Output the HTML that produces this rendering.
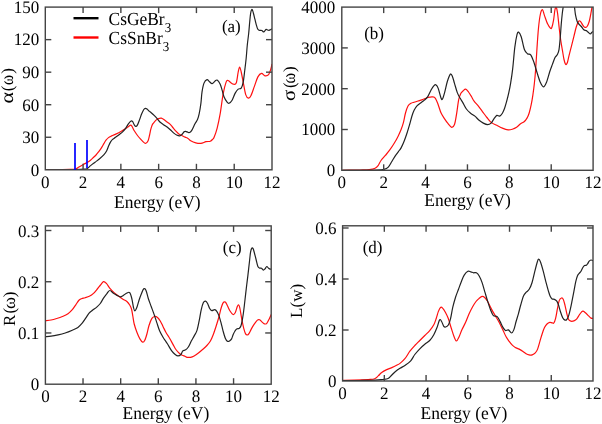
<!DOCTYPE html>
<html><head><meta charset="utf-8"><style>
html,body{margin:0;padding:0;background:#fff;}
svg{display:block;filter:blur(0.3px);}
text{font-family:"Liberation Serif",serif;font-size:17px;fill:#000;text-rendering:geometricPrecision;}
</style></head><body>
<svg width="602" height="424" viewBox="0 0 602 424">
<clipPath id="clipa"><rect x="45.3" y="7.1" width="226.7" height="162.70000000000002"/></clipPath>
<path d="M45.50,169.80 C47.42,169.80 52.92,169.87 57.00,169.80 C61.08,169.73 66.92,169.52 70.00,169.40 C73.08,169.28 74.00,169.50 75.50,169.10 C77.00,168.70 77.75,167.73 79.00,167.00 C80.25,166.27 81.57,165.50 83.00,164.70 C84.43,163.90 86.35,162.95 87.60,162.20 C88.85,161.45 89.50,161.02 90.50,160.20 C91.50,159.38 92.68,158.17 93.60,157.30 C94.52,156.43 95.25,155.82 96.00,155.00 C96.75,154.18 97.25,153.52 98.10,152.40 C98.95,151.28 100.12,149.80 101.10,148.30 C102.08,146.80 103.18,144.75 104.00,143.40 C104.82,142.05 105.25,141.17 106.00,140.20 C106.75,139.23 107.57,138.32 108.50,137.60 C109.43,136.88 110.32,136.52 111.60,135.90 C112.88,135.28 114.72,134.58 116.20,133.90 C117.68,133.22 119.08,132.58 120.50,131.80 C121.92,131.02 123.47,130.00 124.70,129.20 C125.93,128.40 126.92,127.67 127.90,127.00 C128.88,126.33 129.90,125.28 130.60,125.20 C131.30,125.12 131.48,125.57 132.10,126.50 C132.72,127.43 133.40,129.30 134.30,130.80 C135.20,132.30 136.45,134.10 137.50,135.50 C138.55,136.90 139.55,138.05 140.60,139.20 C141.65,140.35 142.92,141.72 143.80,142.40 C144.68,143.08 145.18,143.57 145.90,143.30 C146.62,143.03 147.48,142.18 148.10,140.80 C148.72,139.42 149.17,136.85 149.60,135.00 C150.03,133.15 150.30,131.28 150.70,129.70 C151.10,128.12 151.57,126.57 152.00,125.50 C152.43,124.43 152.63,124.20 153.30,123.30 C153.97,122.40 155.12,120.88 156.00,120.10 C156.88,119.32 157.72,118.92 158.60,118.60 C159.48,118.28 160.42,118.03 161.30,118.20 C162.18,118.37 163.02,119.02 163.90,119.60 C164.78,120.18 165.63,120.98 166.60,121.70 C167.57,122.42 168.73,123.02 169.70,123.90 C170.67,124.78 171.42,125.85 172.40,127.00 C173.38,128.15 174.53,129.65 175.60,130.80 C176.67,131.95 177.75,133.12 178.80,133.90 C179.85,134.68 180.85,134.97 181.90,135.50 C182.95,136.03 184.08,136.62 185.10,137.10 C186.12,137.58 187.07,137.78 188.00,138.40 C188.93,139.02 189.40,140.05 190.70,140.80 C192.00,141.55 194.10,142.47 195.80,142.90 C197.50,143.33 199.20,143.60 200.90,143.40 C202.60,143.20 204.43,142.07 206.00,141.70 C207.57,141.33 209.17,141.63 210.30,141.20 C211.43,140.77 212.17,139.75 212.80,139.10 C213.43,138.45 213.38,139.10 214.10,137.30 C214.82,135.50 216.10,132.15 217.10,128.30 C218.10,124.45 219.10,119.90 220.10,114.20 C221.10,108.50 222.10,99.45 223.10,94.10 C224.10,88.75 225.27,84.37 226.10,82.10 C226.93,79.83 227.43,80.50 228.10,80.50 C228.77,80.50 229.25,81.50 230.10,82.10 C230.95,82.70 232.18,83.93 233.20,84.10 C234.22,84.27 235.37,85.12 236.20,83.10 C237.03,81.08 237.63,74.68 238.20,72.00 C238.77,69.32 239.10,67.00 239.60,67.00 C240.10,67.00 240.60,69.48 241.20,72.00 C241.80,74.52 242.45,78.33 243.20,82.10 C243.95,85.87 244.82,91.92 245.70,94.60 C246.58,97.28 247.63,98.00 248.50,98.20 C249.37,98.40 249.92,97.77 250.90,95.80 C251.88,93.83 253.23,89.55 254.40,86.40 C255.57,83.25 256.72,79.07 257.90,76.90 C259.08,74.73 260.32,73.58 261.50,73.40 C262.68,73.22 263.82,75.60 265.00,75.80 C266.18,76.00 267.62,75.78 268.60,74.60 C269.58,73.42 270.33,70.47 270.90,68.70 C271.47,66.93 271.82,64.78 272.00,64.00" fill="none" stroke="#ff1010" stroke-width="1.2" stroke-linejoin="round" clip-path="url(#clipa)"/>
<path d="M45.50,169.80 C47.92,169.80 55.08,169.83 60.00,169.80 C64.92,169.77 70.85,169.72 75.00,169.60 C79.15,169.48 82.87,169.27 84.90,169.10 C86.93,168.93 86.25,169.18 87.20,168.60 C88.15,168.02 89.28,166.67 90.60,165.60 C91.92,164.53 93.60,163.33 95.10,162.20 C96.60,161.07 98.12,160.05 99.60,158.80 C101.08,157.55 102.82,156.03 104.00,154.70 C105.18,153.37 105.92,152.28 106.70,150.80 C107.48,149.32 108.05,147.28 108.70,145.80 C109.35,144.32 109.95,142.97 110.60,141.90 C111.25,140.83 111.83,140.12 112.60,139.40 C113.37,138.68 114.07,138.42 115.20,137.60 C116.33,136.78 118.17,135.47 119.40,134.50 C120.63,133.53 121.53,132.87 122.60,131.80 C123.67,130.73 124.83,129.42 125.80,128.10 C126.77,126.78 127.52,125.08 128.40,123.90 C129.28,122.72 130.38,121.37 131.10,121.00 C131.82,120.63 132.17,121.05 132.70,121.70 C133.23,122.35 133.77,124.10 134.30,124.90 C134.83,125.70 135.37,126.50 135.90,126.50 C136.43,126.50 136.88,126.05 137.50,124.90 C138.12,123.75 138.90,121.45 139.60,119.60 C140.30,117.75 141.00,115.48 141.70,113.80 C142.40,112.12 143.18,110.42 143.80,109.50 C144.42,108.58 144.87,108.38 145.40,108.30 C145.93,108.22 146.38,108.53 147.00,109.00 C147.62,109.47 148.40,110.48 149.10,111.10 C149.80,111.72 150.32,111.93 151.20,112.70 C152.08,113.47 153.35,114.63 154.40,115.70 C155.45,116.77 156.53,118.00 157.50,119.10 C158.47,120.20 159.13,121.33 160.20,122.30 C161.27,123.27 162.75,124.12 163.90,124.90 C165.05,125.68 166.03,126.20 167.10,127.00 C168.17,127.80 169.23,128.72 170.30,129.70 C171.37,130.68 172.45,132.02 173.50,132.90 C174.55,133.78 175.55,134.52 176.60,135.00 C177.65,135.48 178.92,135.88 179.80,135.80 C180.68,135.72 181.18,135.17 181.90,134.50 C182.62,133.83 183.48,132.33 184.10,131.80 C184.72,131.27 184.95,131.22 185.60,131.30 C186.25,131.38 187.35,132.10 188.00,132.30 C188.65,132.50 188.90,132.78 189.50,132.50 C190.10,132.22 190.68,132.05 191.60,130.60 C192.52,129.15 194.02,125.63 195.00,123.80 C195.98,121.97 196.80,121.30 197.50,119.60 C198.20,117.90 198.63,116.30 199.20,113.60 C199.77,110.90 200.43,106.98 200.90,103.40 C201.37,99.82 201.48,95.48 202.00,92.10 C202.52,88.72 203.17,85.17 204.00,83.10 C204.83,81.03 206.08,79.93 207.00,79.70 C207.92,79.47 208.65,81.03 209.50,81.70 C210.35,82.37 211.17,83.80 212.10,83.70 C213.03,83.60 214.27,81.70 215.10,81.10 C215.93,80.50 216.27,79.60 217.10,80.10 C217.93,80.60 219.27,82.43 220.10,84.10 C220.93,85.77 221.43,87.93 222.10,90.10 C222.77,92.27 223.27,95.08 224.10,97.10 C224.93,99.12 226.27,101.18 227.10,102.20 C227.93,103.22 228.27,103.53 229.10,103.20 C229.93,102.87 231.08,101.88 232.10,100.20 C233.12,98.52 234.18,94.95 235.20,93.10 C236.22,91.25 237.20,89.93 238.20,89.10 C239.20,88.27 240.37,89.27 241.20,88.10 C242.03,86.93 242.60,85.12 243.20,82.10 C243.80,79.08 244.30,74.02 244.80,70.00 C245.30,65.98 245.78,62.17 246.20,58.00 C246.62,53.83 246.88,49.12 247.30,45.00 C247.72,40.88 248.30,37.13 248.70,33.30 C249.10,29.47 249.38,25.30 249.70,22.00 C250.02,18.70 250.28,15.55 250.60,13.50 C250.92,11.45 251.28,10.25 251.60,9.70 C251.92,9.15 252.18,9.57 252.50,10.20 C252.82,10.83 253.10,12.00 253.50,13.50 C253.90,15.00 254.43,17.32 254.90,19.20 C255.37,21.08 255.83,23.15 256.30,24.80 C256.77,26.45 257.23,28.18 257.70,29.10 C258.17,30.02 258.63,30.10 259.10,30.30 C259.57,30.50 260.03,30.27 260.50,30.30 C260.97,30.33 261.42,30.23 261.90,30.50 C262.38,30.77 262.92,31.83 263.40,31.90 C263.88,31.97 264.33,31.33 264.80,30.90 C265.27,30.47 265.73,29.45 266.20,29.30 C266.67,29.15 267.13,29.83 267.60,30.00 C268.07,30.17 268.53,30.35 269.00,30.30 C269.47,30.25 269.90,29.95 270.40,29.70 C270.90,29.45 271.73,28.95 272.00,28.80" fill="none" stroke="#222" stroke-width="1.2" stroke-linejoin="round" clip-path="url(#clipa)"/>
<rect x="45.3" y="7.1" width="226.70" height="162.70" fill="none" stroke="#444" stroke-width="1.4"/>
<line x1="83.08" y1="169.80" x2="83.08" y2="163.80" stroke="#444" stroke-width="1.4"/>
<line x1="83.08" y1="7.10" x2="83.08" y2="13.10" stroke="#444" stroke-width="1.4"/>
<line x1="120.87" y1="169.80" x2="120.87" y2="163.80" stroke="#444" stroke-width="1.4"/>
<line x1="120.87" y1="7.10" x2="120.87" y2="13.10" stroke="#444" stroke-width="1.4"/>
<line x1="158.65" y1="169.80" x2="158.65" y2="163.80" stroke="#444" stroke-width="1.4"/>
<line x1="158.65" y1="7.10" x2="158.65" y2="13.10" stroke="#444" stroke-width="1.4"/>
<line x1="196.43" y1="169.80" x2="196.43" y2="163.80" stroke="#444" stroke-width="1.4"/>
<line x1="196.43" y1="7.10" x2="196.43" y2="13.10" stroke="#444" stroke-width="1.4"/>
<line x1="234.22" y1="169.80" x2="234.22" y2="163.80" stroke="#444" stroke-width="1.4"/>
<line x1="234.22" y1="7.10" x2="234.22" y2="13.10" stroke="#444" stroke-width="1.4"/>
<line x1="45.30" y1="137.26" x2="51.30" y2="137.26" stroke="#444" stroke-width="1.4"/>
<line x1="272.00" y1="137.26" x2="266.00" y2="137.26" stroke="#444" stroke-width="1.4"/>
<line x1="45.30" y1="104.72" x2="51.30" y2="104.72" stroke="#444" stroke-width="1.4"/>
<line x1="272.00" y1="104.72" x2="266.00" y2="104.72" stroke="#444" stroke-width="1.4"/>
<line x1="45.30" y1="72.18" x2="51.30" y2="72.18" stroke="#444" stroke-width="1.4"/>
<line x1="272.00" y1="72.18" x2="266.00" y2="72.18" stroke="#444" stroke-width="1.4"/>
<line x1="45.30" y1="39.64" x2="51.30" y2="39.64" stroke="#444" stroke-width="1.4"/>
<line x1="272.00" y1="39.64" x2="266.00" y2="39.64" stroke="#444" stroke-width="1.4"/>
<clipPath id="clipb"><rect x="341.8" y="7.1" width="251.3" height="163.20000000000002"/></clipPath>
<path d="M342.30,170.30 C343.42,170.28 346.05,170.25 349.00,170.20 C351.95,170.15 356.62,170.08 360.00,170.00 C363.38,169.92 366.78,169.98 369.30,169.70 C371.82,169.42 373.63,168.98 375.10,168.30 C376.57,167.62 377.12,166.90 378.10,165.60 C379.08,164.30 379.78,162.20 381.00,160.50 C382.22,158.80 383.97,157.12 385.40,155.40 C386.83,153.68 388.13,152.22 389.60,150.20 C391.07,148.18 392.80,145.60 394.20,143.30 C395.60,141.00 396.85,138.70 398.00,136.40 C399.15,134.10 400.20,131.80 401.10,129.50 C402.00,127.20 402.67,125.35 403.40,122.60 C404.13,119.85 404.73,115.77 405.50,113.00 C406.27,110.23 407.08,107.62 408.00,106.00 C408.92,104.38 409.98,103.93 411.00,103.30 C412.02,102.67 412.93,102.58 414.10,102.20 C415.27,101.82 416.72,101.38 418.00,101.00 C419.28,100.62 420.63,100.30 421.80,99.90 C422.97,99.50 423.97,99.02 425.00,98.60 C426.03,98.18 426.73,97.68 428.00,97.40 C429.27,97.12 431.37,96.75 432.60,96.90 C433.83,97.05 434.47,97.00 435.40,98.30 C436.33,99.60 437.25,102.23 438.20,104.70 C439.15,107.17 440.03,110.75 441.10,113.10 C442.17,115.45 443.43,117.03 444.60,118.80 C445.77,120.57 446.92,122.28 448.10,123.70 C449.28,125.12 450.63,127.17 451.70,127.30 C452.77,127.43 453.68,126.75 454.50,124.50 C455.32,122.25 455.90,117.93 456.60,113.80 C457.30,109.67 457.98,103.12 458.70,99.70 C459.42,96.28 460.18,94.75 460.90,93.30 C461.62,91.85 462.20,91.68 463.00,91.00 C463.80,90.32 464.78,89.03 465.70,89.20 C466.62,89.37 467.57,90.82 468.50,92.00 C469.43,93.18 470.37,94.77 471.30,96.30 C472.23,97.83 472.92,99.55 474.10,101.20 C475.28,102.85 476.98,104.43 478.40,106.20 C479.82,107.97 481.18,109.92 482.60,111.80 C484.02,113.68 485.48,115.73 486.90,117.50 C488.32,119.27 489.45,121.10 491.10,122.40 C492.75,123.70 494.92,124.35 496.80,125.30 C498.68,126.25 500.52,127.35 502.40,128.10 C504.28,128.85 506.45,129.62 508.10,129.80 C509.75,129.98 510.88,129.63 512.30,129.20 C513.72,128.77 515.22,128.10 516.60,127.20 C517.98,126.30 519.35,124.72 520.60,123.80 C521.85,122.88 523.03,122.65 524.10,121.70 C525.17,120.75 526.17,119.52 527.00,118.10 C527.83,116.68 528.40,115.43 529.10,113.20 C529.80,110.97 530.57,107.77 531.20,104.70 C531.83,101.63 532.38,98.25 532.90,94.80 C533.42,91.35 533.85,88.13 534.30,84.00 C534.75,79.87 535.15,76.00 535.60,70.00 C536.05,64.00 536.52,55.00 537.00,48.00 C537.48,41.00 537.95,33.58 538.50,28.00 C539.05,22.42 539.65,17.58 540.30,14.50 C540.95,11.42 541.70,9.32 542.40,9.50 C543.10,9.68 543.62,13.17 544.50,15.60 C545.38,18.03 546.70,21.98 547.70,24.10 C548.70,26.22 549.80,27.77 550.50,28.30 C551.20,28.83 551.38,28.70 551.90,27.30 C552.42,25.90 553.10,22.78 553.60,19.90 C554.10,17.02 554.47,12.10 554.90,10.00 C555.33,7.90 555.75,6.72 556.20,7.30 C556.65,7.88 557.10,10.05 557.60,13.50 C558.10,16.95 558.68,23.58 559.20,28.00 C559.72,32.42 560.18,36.40 560.70,40.00 C561.22,43.60 561.75,46.35 562.30,49.60 C562.85,52.85 563.45,57.03 564.00,59.50 C564.55,61.97 565.05,63.85 565.60,64.40 C566.15,64.95 566.75,64.17 567.30,62.80 C567.85,61.43 568.22,58.95 568.90,56.20 C569.58,53.45 570.57,49.60 571.40,46.30 C572.23,43.00 573.07,39.70 573.90,36.40 C574.73,33.10 575.58,29.03 576.40,26.50 C577.22,23.97 578.12,22.03 578.80,21.20 C579.48,20.37 579.87,20.90 580.50,21.50 C581.13,22.10 581.92,23.83 582.60,24.80 C583.28,25.77 583.85,27.02 584.60,27.30 C585.35,27.58 586.33,27.47 587.10,26.50 C587.87,25.53 588.57,23.70 589.20,21.50 C589.83,19.30 590.43,15.63 590.90,13.30 C591.37,10.97 591.57,9.22 592.00,7.50 C592.43,5.78 593.25,3.75 593.50,3.00" fill="none" stroke="#ff1010" stroke-width="1.2" stroke-linejoin="round" clip-path="url(#clipb)"/>
<path d="M342.30,170.30 C345.25,170.30 354.28,170.35 360.00,170.30 C365.72,170.25 372.62,170.17 376.60,170.00 C380.58,169.83 381.95,169.78 383.90,169.30 C385.85,168.82 386.95,168.45 388.30,167.10 C389.65,165.75 390.78,163.15 392.00,161.20 C393.22,159.25 394.40,157.18 395.60,155.40 C396.80,153.62 398.28,151.75 399.20,150.50 C400.12,149.25 400.27,149.48 401.10,147.90 C401.93,146.32 403.18,143.57 404.20,141.00 C405.22,138.43 406.32,135.18 407.20,132.50 C408.08,129.82 408.73,127.57 409.50,124.90 C410.27,122.23 411.03,118.93 411.80,116.50 C412.57,114.07 413.20,112.10 414.10,110.30 C415.00,108.50 416.05,106.97 417.20,105.70 C418.35,104.43 419.85,103.58 421.00,102.70 C422.15,101.82 423.00,101.37 424.10,100.40 C425.20,99.43 426.42,98.67 427.60,96.90 C428.78,95.13 430.13,91.68 431.20,89.80 C432.27,87.92 433.18,86.42 434.00,85.60 C434.82,84.78 435.40,84.43 436.10,84.90 C436.80,85.37 437.37,86.17 438.20,88.40 C439.03,90.63 440.38,96.53 441.10,98.30 C441.82,100.07 441.92,99.95 442.50,99.00 C443.08,98.05 443.78,95.55 444.60,92.60 C445.42,89.65 446.45,84.37 447.40,81.30 C448.35,78.23 449.47,75.02 450.30,74.20 C451.13,73.38 451.70,74.87 452.40,76.40 C453.10,77.93 453.68,80.70 454.50,83.40 C455.32,86.10 456.35,90.12 457.30,92.60 C458.25,95.08 459.28,96.63 460.20,98.30 C461.12,99.97 461.77,100.82 462.80,102.60 C463.83,104.38 465.10,107.23 466.40,109.00 C467.70,110.77 469.18,112.02 470.60,113.20 C472.02,114.38 473.48,114.92 474.90,116.10 C476.32,117.28 477.70,119.13 479.10,120.30 C480.50,121.47 481.88,122.38 483.30,123.10 C484.72,123.82 486.30,124.60 487.60,124.60 C488.90,124.60 490.05,124.05 491.10,123.10 C492.15,122.15 492.95,120.18 493.90,118.90 C494.85,117.62 495.85,115.87 496.80,115.40 C497.75,114.93 498.67,116.47 499.60,116.10 C500.53,115.73 501.57,114.50 502.40,113.20 C503.23,111.90 503.88,110.30 504.60,108.30 C505.32,106.30 506.00,103.80 506.70,101.20 C507.40,98.60 508.15,95.67 508.80,92.70 C509.45,89.73 509.95,87.42 510.60,83.40 C511.25,79.38 512.00,74.60 512.70,68.60 C513.40,62.60 514.08,53.05 514.80,47.40 C515.52,41.75 516.37,37.25 517.00,34.70 C517.63,32.15 517.90,31.75 518.60,32.10 C519.30,32.45 520.23,33.90 521.20,36.80 C522.17,39.70 523.35,46.68 524.40,49.50 C525.45,52.32 526.45,52.82 527.50,53.70 C528.55,54.58 529.63,53.38 530.70,54.80 C531.77,56.22 532.83,59.20 533.90,62.20 C534.97,65.20 536.03,69.45 537.10,72.80 C538.17,76.15 539.25,79.97 540.30,82.30 C541.35,84.63 542.38,86.77 543.40,86.80 C544.42,86.83 545.33,85.05 546.40,82.50 C547.47,79.95 548.80,74.52 549.80,71.50 C550.80,68.48 551.55,66.68 552.40,64.40 C553.25,62.12 554.07,59.45 554.90,57.80 C555.73,56.15 556.72,55.87 557.40,54.50 C558.08,53.13 558.53,52.35 559.00,49.60 C559.47,46.85 559.83,42.13 560.20,38.00 C560.57,33.87 560.85,28.92 561.20,24.80 C561.55,20.68 561.97,16.32 562.30,13.30 C562.63,10.28 562.83,9.75 563.20,6.70 C563.57,3.65 563.70,-1.38 564.50,-5.00 C565.30,-8.62 566.75,-15.00 568.00,-15.00 C569.25,-15.00 570.93,-8.62 572.00,-5.00 C573.07,-1.38 573.82,3.38 574.40,6.70 C574.98,10.02 575.03,12.43 575.50,14.90 C575.97,17.37 576.65,19.98 577.20,21.50 C577.75,23.02 578.12,23.17 578.80,24.00 C579.48,24.83 580.47,25.53 581.30,26.50 C582.13,27.47 582.97,29.12 583.80,29.80 C584.63,30.48 585.57,30.20 586.30,30.60 C587.03,31.00 587.52,31.65 588.20,32.20 C588.88,32.75 589.77,33.90 590.40,33.90 C591.03,33.90 591.48,32.62 592.00,32.20 C592.52,31.78 593.25,31.53 593.50,31.40" fill="none" stroke="#222" stroke-width="1.2" stroke-linejoin="round" clip-path="url(#clipb)"/>
<rect x="341.8" y="7.1" width="251.30" height="163.20" fill="none" stroke="#444" stroke-width="1.4"/>
<line x1="383.68" y1="170.30" x2="383.68" y2="164.30" stroke="#444" stroke-width="1.4"/>
<line x1="383.68" y1="7.10" x2="383.68" y2="13.10" stroke="#444" stroke-width="1.4"/>
<line x1="425.57" y1="170.30" x2="425.57" y2="164.30" stroke="#444" stroke-width="1.4"/>
<line x1="425.57" y1="7.10" x2="425.57" y2="13.10" stroke="#444" stroke-width="1.4"/>
<line x1="467.45" y1="170.30" x2="467.45" y2="164.30" stroke="#444" stroke-width="1.4"/>
<line x1="467.45" y1="7.10" x2="467.45" y2="13.10" stroke="#444" stroke-width="1.4"/>
<line x1="509.33" y1="170.30" x2="509.33" y2="164.30" stroke="#444" stroke-width="1.4"/>
<line x1="509.33" y1="7.10" x2="509.33" y2="13.10" stroke="#444" stroke-width="1.4"/>
<line x1="551.22" y1="170.30" x2="551.22" y2="164.30" stroke="#444" stroke-width="1.4"/>
<line x1="551.22" y1="7.10" x2="551.22" y2="13.10" stroke="#444" stroke-width="1.4"/>
<line x1="341.80" y1="129.50" x2="347.80" y2="129.50" stroke="#444" stroke-width="1.4"/>
<line x1="593.10" y1="129.50" x2="587.10" y2="129.50" stroke="#444" stroke-width="1.4"/>
<line x1="341.80" y1="88.70" x2="347.80" y2="88.70" stroke="#444" stroke-width="1.4"/>
<line x1="593.10" y1="88.70" x2="587.10" y2="88.70" stroke="#444" stroke-width="1.4"/>
<line x1="341.80" y1="47.90" x2="347.80" y2="47.90" stroke="#444" stroke-width="1.4"/>
<line x1="593.10" y1="47.90" x2="587.10" y2="47.90" stroke="#444" stroke-width="1.4"/>
<clipPath id="clipc"><rect x="45.4" y="225.9" width="225.79999999999998" height="158.29999999999998"/></clipPath>
<path d="M45.40,320.70 C46.35,320.58 49.22,320.37 51.10,320.00 C52.98,319.63 54.82,319.08 56.70,318.50 C58.58,317.92 60.52,317.30 62.40,316.50 C64.28,315.70 66.35,314.83 68.00,313.70 C69.65,312.57 71.00,311.18 72.30,309.70 C73.60,308.22 74.73,306.33 75.80,304.80 C76.87,303.27 77.75,301.52 78.70,300.50 C79.65,299.48 80.45,299.17 81.50,298.70 C82.55,298.23 83.70,298.10 85.00,297.70 C86.30,297.30 87.88,297.02 89.30,296.30 C90.72,295.58 92.10,294.70 93.50,293.40 C94.90,292.10 96.53,289.90 97.70,288.50 C98.87,287.10 99.53,286.13 100.50,285.00 C101.47,283.87 102.52,281.97 103.50,281.70 C104.48,281.43 105.33,282.30 106.40,283.40 C107.47,284.50 108.62,286.77 109.90,288.30 C111.18,289.83 112.68,291.30 114.10,292.60 C115.52,293.90 116.98,295.03 118.40,296.10 C119.82,297.17 121.18,298.10 122.60,299.00 C124.02,299.90 125.72,300.50 126.90,301.50 C128.08,302.50 128.93,303.75 129.70,305.00 C130.47,306.25 130.98,307.17 131.50,309.00 C132.02,310.83 132.35,313.50 132.80,316.00 C133.25,318.50 133.50,321.25 134.20,324.00 C134.90,326.75 136.05,330.02 137.00,332.50 C137.95,334.98 138.95,337.28 139.90,338.90 C140.85,340.52 141.88,341.97 142.70,342.20 C143.52,342.43 144.10,341.67 144.80,340.30 C145.50,338.93 146.20,336.47 146.90,334.00 C147.60,331.53 148.17,328.10 149.00,325.50 C149.83,322.90 150.95,319.90 151.90,318.40 C152.85,316.90 153.77,316.65 154.70,316.50 C155.63,316.35 156.55,316.72 157.50,317.50 C158.45,318.28 159.45,319.63 160.40,321.20 C161.35,322.77 162.27,325.02 163.20,326.90 C164.13,328.78 164.93,330.62 166.00,332.50 C167.07,334.38 168.42,336.18 169.60,338.20 C170.78,340.22 172.05,342.72 173.10,344.60 C174.15,346.48 174.83,348.02 175.90,349.50 C176.97,350.98 178.43,352.55 179.50,353.50 C180.57,354.45 181.38,354.73 182.30,355.20 C183.22,355.67 184.20,355.95 185.00,356.30 C185.80,356.65 186.17,357.13 187.10,357.30 C188.03,357.47 189.43,357.53 190.60,357.30 C191.77,357.07 192.80,356.62 194.10,355.90 C195.40,355.18 196.98,354.07 198.40,353.00 C199.82,351.93 201.18,350.75 202.60,349.50 C204.02,348.25 205.60,346.92 206.90,345.50 C208.20,344.08 209.35,342.80 210.40,341.00 C211.45,339.20 212.25,337.17 213.20,334.70 C214.15,332.23 215.15,329.15 216.10,326.20 C217.05,323.25 218.08,319.95 218.90,317.00 C219.72,314.05 220.30,310.87 221.00,308.50 C221.70,306.13 222.38,303.87 223.10,302.80 C223.82,301.73 224.58,301.62 225.30,302.10 C226.02,302.58 226.58,304.17 227.40,305.70 C228.22,307.23 229.27,309.83 230.20,311.30 C231.13,312.77 232.17,314.27 233.00,314.50 C233.83,314.73 234.48,314.03 235.20,312.70 C235.92,311.37 236.73,307.82 237.30,306.50 C237.87,305.18 238.20,304.65 238.60,304.80 C239.00,304.95 239.33,305.98 239.70,307.40 C240.07,308.82 240.42,311.13 240.80,313.30 C241.18,315.47 241.50,317.85 242.00,320.40 C242.50,322.95 243.20,326.35 243.80,328.60 C244.40,330.85 245.02,332.83 245.60,333.90 C246.18,334.97 246.72,335.10 247.30,335.00 C247.88,334.90 248.40,334.37 249.10,333.30 C249.80,332.23 250.62,330.17 251.50,328.60 C252.38,327.03 253.42,325.32 254.40,323.90 C255.38,322.48 256.52,320.78 257.40,320.10 C258.28,319.42 258.92,319.47 259.70,319.80 C260.48,320.13 261.32,321.42 262.10,322.10 C262.88,322.78 263.62,323.70 264.40,323.90 C265.18,324.10 266.02,324.08 266.80,323.30 C267.58,322.52 268.37,320.67 269.10,319.20 C269.83,317.73 270.85,315.28 271.20,314.50" fill="none" stroke="#ff1010" stroke-width="1.2" stroke-linejoin="round" clip-path="url(#clipc)"/>
<path d="M45.40,336.60 C46.35,336.53 48.98,336.48 51.10,336.20 C53.22,335.92 55.75,335.43 58.10,334.90 C60.45,334.37 62.83,333.78 65.20,333.00 C67.57,332.22 70.18,331.13 72.30,330.20 C74.42,329.27 76.25,328.58 77.90,327.40 C79.55,326.22 80.90,324.63 82.20,323.10 C83.50,321.57 84.52,319.92 85.70,318.20 C86.88,316.48 88.12,314.15 89.30,312.80 C90.48,311.45 91.52,311.08 92.80,310.10 C94.08,309.12 95.75,308.00 97.00,306.90 C98.25,305.80 99.22,304.95 100.30,303.50 C101.38,302.05 102.37,299.90 103.50,298.20 C104.63,296.50 106.03,294.58 107.10,293.30 C108.17,292.02 108.85,290.50 109.90,290.50 C110.95,290.50 112.22,292.48 113.40,293.30 C114.58,294.12 115.82,294.82 117.00,295.40 C118.18,295.98 119.45,296.80 120.50,296.80 C121.55,296.80 122.23,296.03 123.30,295.40 C124.37,294.77 125.83,293.47 126.90,293.00 C127.97,292.53 128.88,291.68 129.70,292.60 C130.52,293.52 131.17,296.02 131.80,298.50 C132.43,300.98 132.98,305.45 133.50,307.50 C134.02,309.55 134.32,310.88 134.90,310.80 C135.48,310.72 136.30,308.80 137.00,307.00 C137.70,305.20 138.43,302.05 139.10,300.00 C139.77,297.95 140.22,296.57 141.00,294.70 C141.78,292.83 142.97,289.50 143.80,288.80 C144.63,288.10 145.25,288.88 146.00,290.50 C146.75,292.12 147.43,295.83 148.30,298.50 C149.17,301.17 150.25,303.90 151.20,306.50 C152.15,309.10 153.07,311.42 154.00,314.10 C154.93,316.78 155.85,319.77 156.80,322.60 C157.75,325.43 158.63,328.62 159.70,331.10 C160.77,333.58 161.92,335.38 163.20,337.50 C164.48,339.62 165.98,341.57 167.40,343.80 C168.82,346.03 170.40,349.12 171.70,350.90 C173.00,352.68 174.15,353.67 175.20,354.50 C176.25,355.33 177.05,355.90 178.00,355.90 C178.95,355.90 180.10,355.33 180.90,354.50 C181.70,353.67 182.00,351.68 182.80,350.90 C183.60,350.12 184.75,350.50 185.70,349.80 C186.65,349.10 187.57,348.17 188.50,346.70 C189.43,345.23 190.37,342.77 191.30,341.00 C192.23,339.23 193.15,337.87 194.10,336.10 C195.05,334.33 196.17,332.88 197.00,330.40 C197.83,327.92 198.40,324.62 199.10,321.20 C199.80,317.78 200.50,312.97 201.20,309.90 C201.90,306.83 202.58,304.27 203.30,302.80 C204.02,301.33 204.78,300.98 205.50,301.10 C206.22,301.22 206.90,302.27 207.60,303.50 C208.30,304.73 209.00,307.32 209.70,308.50 C210.40,309.68 210.97,310.42 211.80,310.60 C212.63,310.78 213.87,309.48 214.70,309.60 C215.53,309.72 216.10,310.30 216.80,311.30 C217.50,312.30 218.20,313.72 218.90,315.60 C219.60,317.48 220.30,320.02 221.00,322.60 C221.70,325.18 222.38,328.50 223.10,331.10 C223.82,333.70 224.58,336.50 225.30,338.20 C226.02,339.90 226.70,340.83 227.40,341.30 C228.10,341.77 228.80,341.40 229.50,341.00 C230.20,340.60 230.98,339.98 231.60,338.90 C232.22,337.82 232.63,335.82 233.20,334.50 C233.77,333.18 234.42,331.93 235.00,331.00 C235.58,330.07 236.02,329.33 236.70,328.90 C237.38,328.47 238.42,328.83 239.10,328.40 C239.78,327.97 240.32,327.43 240.80,326.30 C241.28,325.17 241.60,323.57 242.00,321.60 C242.40,319.63 242.80,317.27 243.20,314.50 C243.60,311.73 244.00,308.35 244.40,305.00 C244.80,301.65 245.22,297.73 245.60,294.40 C245.98,291.07 246.32,288.17 246.70,285.00 C247.08,281.83 247.43,279.37 247.90,275.40 C248.37,271.43 249.05,265.13 249.50,261.20 C249.95,257.27 250.18,254.00 250.60,251.80 C251.02,249.60 251.57,248.50 252.00,248.00 C252.43,247.50 252.80,247.97 253.20,248.80 C253.60,249.63 253.90,251.13 254.40,253.00 C254.90,254.87 255.62,257.75 256.20,260.00 C256.78,262.25 257.32,265.15 257.90,266.50 C258.48,267.85 259.10,267.80 259.70,268.10 C260.30,268.40 260.90,267.97 261.50,268.30 C262.10,268.63 262.72,270.00 263.30,270.10 C263.88,270.20 264.42,269.50 265.00,268.90 C265.58,268.30 266.20,266.60 266.80,266.50 C267.40,266.40 268.02,267.85 268.60,268.30 C269.18,268.75 269.82,269.10 270.30,269.20 C270.78,269.30 271.30,268.95 271.50,268.90" fill="none" stroke="#222" stroke-width="1.2" stroke-linejoin="round" clip-path="url(#clipc)"/>
<rect x="45.4" y="225.9" width="225.80" height="158.30" fill="none" stroke="#444" stroke-width="1.4"/>
<line x1="83.03" y1="384.20" x2="83.03" y2="378.20" stroke="#444" stroke-width="1.4"/>
<line x1="83.03" y1="225.90" x2="83.03" y2="231.90" stroke="#444" stroke-width="1.4"/>
<line x1="120.67" y1="384.20" x2="120.67" y2="378.20" stroke="#444" stroke-width="1.4"/>
<line x1="120.67" y1="225.90" x2="120.67" y2="231.90" stroke="#444" stroke-width="1.4"/>
<line x1="158.30" y1="384.20" x2="158.30" y2="378.20" stroke="#444" stroke-width="1.4"/>
<line x1="158.30" y1="225.90" x2="158.30" y2="231.90" stroke="#444" stroke-width="1.4"/>
<line x1="195.93" y1="384.20" x2="195.93" y2="378.20" stroke="#444" stroke-width="1.4"/>
<line x1="195.93" y1="225.90" x2="195.93" y2="231.90" stroke="#444" stroke-width="1.4"/>
<line x1="233.57" y1="384.20" x2="233.57" y2="378.20" stroke="#444" stroke-width="1.4"/>
<line x1="233.57" y1="225.90" x2="233.57" y2="231.90" stroke="#444" stroke-width="1.4"/>
<line x1="45.40" y1="332.97" x2="51.40" y2="332.97" stroke="#444" stroke-width="1.4"/>
<line x1="271.20" y1="332.97" x2="265.20" y2="332.97" stroke="#444" stroke-width="1.4"/>
<line x1="45.40" y1="281.74" x2="51.40" y2="281.74" stroke="#444" stroke-width="1.4"/>
<line x1="271.20" y1="281.74" x2="265.20" y2="281.74" stroke="#444" stroke-width="1.4"/>
<line x1="45.40" y1="230.51" x2="51.40" y2="230.51" stroke="#444" stroke-width="1.4"/>
<line x1="271.20" y1="230.51" x2="265.20" y2="230.51" stroke="#444" stroke-width="1.4"/>
<clipPath id="clipd"><rect x="342.6" y="225.8" width="250.39999999999998" height="155.2"/></clipPath>
<path d="M342.80,380.40 C344.68,380.37 349.85,380.35 354.10,380.20 C358.35,380.05 364.87,379.75 368.30,379.50 C371.73,379.25 373.05,379.30 374.70,378.70 C376.35,378.10 377.03,376.95 378.20,375.90 C379.37,374.85 380.28,373.45 381.70,372.40 C383.12,371.35 384.93,370.43 386.70,369.60 C388.47,368.77 390.65,368.12 392.30,367.40 C393.95,366.68 395.32,365.97 396.60,365.30 C397.88,364.63 398.62,364.50 400.00,363.40 C401.38,362.30 403.25,360.73 404.90,358.70 C406.55,356.67 408.25,353.40 409.90,351.20 C411.55,349.00 413.15,347.28 414.80,345.50 C416.45,343.72 418.13,342.17 419.80,340.50 C421.47,338.83 423.15,337.15 424.80,335.50 C426.45,333.85 428.20,332.38 429.70,330.60 C431.20,328.82 432.70,326.87 433.80,324.80 C434.90,322.73 435.55,320.40 436.30,318.20 C437.05,316.00 437.60,313.40 438.30,311.60 C439.00,309.80 439.75,307.95 440.50,307.40 C441.25,306.85 441.97,307.45 442.80,308.30 C443.63,309.15 444.60,310.83 445.50,312.50 C446.40,314.17 447.23,315.67 448.20,318.30 C449.17,320.93 450.32,325.22 451.30,328.30 C452.28,331.38 453.23,334.68 454.10,336.80 C454.97,338.92 455.67,341.00 456.50,341.00 C457.33,341.00 458.20,338.68 459.10,336.80 C460.00,334.92 460.83,332.07 461.90,329.70 C462.97,327.33 464.32,325.22 465.50,322.60 C466.68,319.98 467.83,316.60 469.00,314.00 C470.17,311.40 471.33,309.08 472.50,307.00 C473.67,304.92 474.92,302.92 476.00,301.50 C477.08,300.08 477.98,299.35 479.00,298.50 C480.02,297.65 481.12,296.53 482.10,296.40 C483.08,296.27 483.97,296.85 484.90,297.70 C485.83,298.55 486.60,299.60 487.70,301.50 C488.80,303.40 490.23,306.73 491.50,309.10 C492.77,311.47 494.03,313.50 495.30,315.70 C496.57,317.90 497.80,319.83 499.10,322.30 C500.40,324.77 501.93,328.08 503.10,330.50 C504.27,332.92 505.08,334.98 506.10,336.80 C507.12,338.62 508.17,340.00 509.20,341.40 C510.23,342.80 511.28,344.18 512.30,345.20 C513.32,346.22 514.15,346.85 515.30,347.50 C516.45,348.15 517.92,348.45 519.20,349.10 C520.48,349.75 521.85,350.63 523.00,351.40 C524.15,352.17 525.08,353.12 526.10,353.70 C527.12,354.28 528.08,354.70 529.10,354.90 C530.12,355.10 531.17,355.23 532.20,354.90 C533.23,354.57 534.40,353.87 535.30,352.90 C536.20,351.93 536.83,351.02 537.60,349.10 C538.37,347.18 539.13,343.97 539.90,341.40 C540.67,338.83 541.43,336.00 542.20,333.70 C542.97,331.40 543.70,329.22 544.50,327.60 C545.30,325.98 546.13,324.87 547.00,324.00 C547.87,323.13 548.85,322.60 549.70,322.40 C550.55,322.20 551.42,322.70 552.10,322.80 C552.78,322.90 553.22,323.75 553.80,323.00 C554.38,322.25 555.00,320.65 555.60,318.30 C556.20,315.95 556.80,311.85 557.40,308.90 C558.00,305.95 558.52,302.42 559.20,300.60 C559.88,298.78 560.82,298.20 561.50,298.00 C562.18,297.80 562.72,298.18 563.30,299.40 C563.88,300.62 564.42,302.93 565.00,305.30 C565.58,307.67 566.20,311.23 566.80,313.60 C567.40,315.97 567.92,318.23 568.60,319.50 C569.28,320.77 570.02,320.97 570.90,321.20 C571.78,321.43 572.92,321.28 573.90,320.90 C574.88,320.52 575.82,320.02 576.80,318.90 C577.78,317.78 578.82,315.48 579.80,314.20 C580.78,312.92 581.72,311.40 582.70,311.20 C583.68,311.00 584.72,312.22 585.70,313.00 C586.68,313.78 587.72,315.05 588.60,315.90 C589.48,316.75 590.27,317.70 591.00,318.10 C591.73,318.50 592.67,318.27 593.00,318.30" fill="none" stroke="#ff1010" stroke-width="1.2" stroke-linejoin="round" clip-path="url(#clipd)"/>
<path d="M342.80,380.60 C345.67,380.58 354.57,380.57 360.00,380.50 C365.43,380.43 371.67,380.37 375.40,380.20 C379.13,380.03 380.28,379.78 382.40,379.50 C384.52,379.22 386.57,379.22 388.10,378.50 C389.63,377.78 390.42,376.33 391.60,375.20 C392.78,374.07 393.80,372.85 395.20,371.70 C396.60,370.55 398.38,369.33 400.00,368.30 C401.62,367.27 403.12,366.75 404.90,365.50 C406.68,364.25 409.05,362.63 410.70,360.80 C412.35,358.97 413.28,356.50 414.80,354.50 C416.32,352.50 418.13,350.50 419.80,348.80 C421.47,347.10 423.15,345.68 424.80,344.30 C426.45,342.92 428.20,342.10 429.70,340.50 C431.20,338.90 432.57,336.90 433.80,334.70 C435.03,332.50 436.13,329.78 437.10,327.30 C438.07,324.82 438.85,320.77 439.60,319.80 C440.35,318.83 440.90,320.40 441.60,321.50 C442.30,322.60 443.12,325.48 443.80,326.40 C444.48,327.32 444.92,327.27 445.70,327.00 C446.48,326.73 447.68,326.23 448.50,324.80 C449.32,323.37 449.88,321.33 450.60,318.40 C451.32,315.47 451.95,310.80 452.80,307.20 C453.65,303.60 454.75,299.80 455.70,296.80 C456.65,293.80 457.57,291.72 458.50,289.20 C459.43,286.68 460.35,284.05 461.30,281.70 C462.25,279.35 463.10,276.83 464.20,275.10 C465.30,273.37 466.80,271.83 467.90,271.30 C469.00,270.77 469.85,271.65 470.80,271.90 C471.75,272.15 472.67,272.65 473.60,272.80 C474.53,272.95 475.47,272.27 476.40,272.80 C477.33,273.33 478.25,274.37 479.20,276.00 C480.15,277.63 481.15,279.92 482.10,282.60 C483.05,285.28 483.97,288.95 484.90,292.10 C485.83,295.25 486.75,298.52 487.70,301.50 C488.65,304.48 489.65,307.63 490.60,310.00 C491.55,312.37 492.30,314.60 493.40,315.70 C494.50,316.80 496.10,315.65 497.20,316.60 C498.30,317.55 499.02,319.57 500.00,321.40 C500.98,323.23 502.18,326.08 503.10,327.60 C504.02,329.12 504.62,330.12 505.50,330.50 C506.38,330.88 507.40,329.48 508.40,329.90 C509.40,330.32 510.60,333.00 511.50,333.00 C512.40,333.00 513.03,331.82 513.80,329.90 C514.57,327.98 515.33,324.18 516.10,321.50 C516.87,318.82 517.63,316.55 518.40,313.80 C519.17,311.05 519.85,307.98 520.70,305.00 C521.55,302.02 522.57,298.03 523.50,295.90 C524.43,293.77 525.35,293.30 526.30,292.20 C527.25,291.10 528.25,290.88 529.20,289.30 C530.15,287.72 531.07,285.68 532.00,282.70 C532.93,279.72 533.92,274.85 534.80,271.40 C535.68,267.95 536.67,264.03 537.30,262.00 C537.93,259.97 538.07,259.20 538.60,259.20 C539.13,259.20 539.72,259.97 540.50,262.00 C541.28,264.03 542.37,267.95 543.30,271.40 C544.23,274.85 545.23,279.38 546.10,282.70 C546.97,286.02 547.80,288.98 548.50,291.30 C549.20,293.62 549.70,295.33 550.30,296.60 C550.90,297.87 551.42,298.43 552.10,298.90 C552.78,299.37 553.62,299.02 554.40,299.40 C555.18,299.78 556.10,300.22 556.80,301.20 C557.50,302.18 558.02,303.63 558.60,305.30 C559.18,306.97 559.62,309.13 560.30,311.20 C560.98,313.27 561.92,316.22 562.70,317.70 C563.48,319.18 564.32,319.80 565.00,320.10 C565.68,320.40 566.20,320.20 566.80,319.50 C567.40,318.80 568.00,317.67 568.60,315.90 C569.20,314.13 569.82,311.45 570.40,308.90 C570.98,306.35 571.52,303.53 572.10,300.60 C572.68,297.67 573.30,294.43 573.90,291.30 C574.50,288.17 575.12,284.37 575.70,281.80 C576.28,279.23 576.82,277.32 577.40,275.90 C577.98,274.48 578.60,274.08 579.20,273.30 C579.80,272.52 580.42,272.13 581.00,271.20 C581.58,270.27 582.12,268.63 582.70,267.70 C583.28,266.77 583.90,266.00 584.50,265.60 C585.10,265.20 585.77,265.63 586.30,265.30 C586.83,264.97 587.22,264.28 587.70,263.60 C588.18,262.92 588.65,261.80 589.20,261.20 C589.75,260.60 590.37,260.10 591.00,260.00 C591.63,259.90 592.67,260.50 593.00,260.60" fill="none" stroke="#222" stroke-width="1.2" stroke-linejoin="round" clip-path="url(#clipd)"/>
<rect x="342.6" y="225.8" width="250.40" height="155.20" fill="none" stroke="#444" stroke-width="1.4"/>
<line x1="384.33" y1="381.00" x2="384.33" y2="375.00" stroke="#444" stroke-width="1.4"/>
<line x1="384.33" y1="225.80" x2="384.33" y2="231.80" stroke="#444" stroke-width="1.4"/>
<line x1="426.07" y1="381.00" x2="426.07" y2="375.00" stroke="#444" stroke-width="1.4"/>
<line x1="426.07" y1="225.80" x2="426.07" y2="231.80" stroke="#444" stroke-width="1.4"/>
<line x1="467.80" y1="381.00" x2="467.80" y2="375.00" stroke="#444" stroke-width="1.4"/>
<line x1="467.80" y1="225.80" x2="467.80" y2="231.80" stroke="#444" stroke-width="1.4"/>
<line x1="509.53" y1="381.00" x2="509.53" y2="375.00" stroke="#444" stroke-width="1.4"/>
<line x1="509.53" y1="225.80" x2="509.53" y2="231.80" stroke="#444" stroke-width="1.4"/>
<line x1="551.27" y1="381.00" x2="551.27" y2="375.00" stroke="#444" stroke-width="1.4"/>
<line x1="551.27" y1="225.80" x2="551.27" y2="231.80" stroke="#444" stroke-width="1.4"/>
<line x1="342.60" y1="330.00" x2="348.60" y2="330.00" stroke="#444" stroke-width="1.4"/>
<line x1="593.00" y1="330.00" x2="587.00" y2="330.00" stroke="#444" stroke-width="1.4"/>
<line x1="342.60" y1="279.00" x2="348.60" y2="279.00" stroke="#444" stroke-width="1.4"/>
<line x1="593.00" y1="279.00" x2="587.00" y2="279.00" stroke="#444" stroke-width="1.4"/>
<line x1="342.60" y1="227.99" x2="348.60" y2="227.99" stroke="#444" stroke-width="1.4"/>
<line x1="593.00" y1="227.99" x2="587.00" y2="227.99" stroke="#444" stroke-width="1.4"/>
<text x="0" y="0" transform="translate(45.30,187.70) scale(1,1.03)" text-anchor="middle" >0</text>
<text x="0" y="0" transform="translate(83.08,187.70) scale(1,1.03)" text-anchor="middle" >2</text>
<text x="0" y="0" transform="translate(120.87,187.70) scale(1,1.03)" text-anchor="middle" >4</text>
<text x="0" y="0" transform="translate(158.65,187.70) scale(1,1.03)" text-anchor="middle" >6</text>
<text x="0" y="0" transform="translate(196.43,187.70) scale(1,1.03)" text-anchor="middle" >8</text>
<text x="0" y="0" transform="translate(234.22,187.70) scale(1,1.03)" text-anchor="middle" >10</text>
<text x="0" y="0" transform="translate(272.00,187.70) scale(1,1.03)" text-anchor="middle" >12</text>
<text x="0" y="0" transform="translate(39.30,175.60) scale(1,1.03)" text-anchor="end" >0</text>
<text x="0" y="0" transform="translate(39.30,143.06) scale(1,1.03)" text-anchor="end" >30</text>
<text x="0" y="0" transform="translate(39.30,110.52) scale(1,1.03)" text-anchor="end" >60</text>
<text x="0" y="0" transform="translate(39.30,77.98) scale(1,1.03)" text-anchor="end" >90</text>
<text x="0" y="0" transform="translate(39.30,45.44) scale(1,1.03)" text-anchor="end" >120</text>
<text x="0" y="0" transform="translate(39.30,12.90) scale(1,1.03)" text-anchor="end" >150</text>
<text x="0" y="0" transform="translate(341.80,188.10) scale(1,1.03)" text-anchor="middle" >0</text>
<text x="0" y="0" transform="translate(383.68,188.10) scale(1,1.03)" text-anchor="middle" >2</text>
<text x="0" y="0" transform="translate(425.57,188.10) scale(1,1.03)" text-anchor="middle" >4</text>
<text x="0" y="0" transform="translate(467.45,188.10) scale(1,1.03)" text-anchor="middle" >6</text>
<text x="0" y="0" transform="translate(509.33,188.10) scale(1,1.03)" text-anchor="middle" >8</text>
<text x="0" y="0" transform="translate(551.22,188.10) scale(1,1.03)" text-anchor="middle" >10</text>
<text x="0" y="0" transform="translate(593.10,188.10) scale(1,1.03)" text-anchor="middle" >12</text>
<text x="0" y="0" transform="translate(335.20,176.10) scale(1,1.03)" text-anchor="end" >0</text>
<text x="0" y="0" transform="translate(335.20,135.30) scale(1,1.03)" text-anchor="end" >1000</text>
<text x="0" y="0" transform="translate(335.20,94.50) scale(1,1.03)" text-anchor="end" >2000</text>
<text x="0" y="0" transform="translate(335.20,53.70) scale(1,1.03)" text-anchor="end" >3000</text>
<text x="0" y="0" transform="translate(335.20,12.90) scale(1,1.03)" text-anchor="end" >4000</text>
<text x="0" y="0" transform="translate(45.40,402.20) scale(1,1.03)" text-anchor="middle" >0</text>
<text x="0" y="0" transform="translate(83.03,402.20) scale(1,1.03)" text-anchor="middle" >2</text>
<text x="0" y="0" transform="translate(120.67,402.20) scale(1,1.03)" text-anchor="middle" >4</text>
<text x="0" y="0" transform="translate(158.30,402.20) scale(1,1.03)" text-anchor="middle" >6</text>
<text x="0" y="0" transform="translate(195.93,402.20) scale(1,1.03)" text-anchor="middle" >8</text>
<text x="0" y="0" transform="translate(233.57,402.20) scale(1,1.03)" text-anchor="middle" >10</text>
<text x="0" y="0" transform="translate(271.20,402.20) scale(1,1.03)" text-anchor="middle" >12</text>
<text x="0" y="0" transform="translate(39.20,390.30) scale(1,1.03)" text-anchor="end" >0</text>
<text x="0" y="0" transform="translate(39.20,339.07) scale(1,1.03)" text-anchor="end" >0.1</text>
<text x="0" y="0" transform="translate(39.20,287.84) scale(1,1.03)" text-anchor="end" >0.2</text>
<text x="0" y="0" transform="translate(39.20,236.61) scale(1,1.03)" text-anchor="end" >0.3</text>
<text x="0" y="0" transform="translate(342.60,399.10) scale(1,1.03)" text-anchor="middle" >0</text>
<text x="0" y="0" transform="translate(384.33,399.10) scale(1,1.03)" text-anchor="middle" >2</text>
<text x="0" y="0" transform="translate(426.07,399.10) scale(1,1.03)" text-anchor="middle" >4</text>
<text x="0" y="0" transform="translate(467.80,399.10) scale(1,1.03)" text-anchor="middle" >6</text>
<text x="0" y="0" transform="translate(509.53,399.10) scale(1,1.03)" text-anchor="middle" >8</text>
<text x="0" y="0" transform="translate(551.27,399.10) scale(1,1.03)" text-anchor="middle" >10</text>
<text x="0" y="0" transform="translate(593.00,399.10) scale(1,1.03)" text-anchor="middle" >12</text>
<text x="0" y="0" transform="translate(336.60,387.10) scale(1,1.03)" text-anchor="end" >0</text>
<text x="0" y="0" transform="translate(336.60,336.10) scale(1,1.03)" text-anchor="end" >0.2</text>
<text x="0" y="0" transform="translate(336.60,285.10) scale(1,1.03)" text-anchor="end" >0.4</text>
<text x="0" y="0" transform="translate(336.60,234.09) scale(1,1.03)" text-anchor="end" >0.6</text>
<text x="0" y="0" transform="translate(157.30,208.00) scale(1,1.03)" text-anchor="middle" style="font-size:17.5px">Energy (eV)</text>
<text x="0" y="0" transform="translate(467.60,205.60) scale(1,1.03)" text-anchor="middle" style="font-size:17.5px">Energy (eV)</text>
<text x="0" y="0" transform="translate(165.90,419.30) scale(1,1.03)" text-anchor="middle" style="font-size:17.5px">Energy (eV)</text>
<text x="0" y="0" transform="translate(463.90,418.90) scale(1,1.03)" text-anchor="middle" style="font-size:17.5px">Energy (eV)</text>
<g transform="translate(12.60,0) rotate(-90)"><text x="0" y="0" transform="translate(-103.50,0) scale(1.3,1.08)">α</text><text x="0" y="0" transform="translate(-91.30,0) scale(1,1)">(</text><text x="0" y="0" transform="translate(-84.90,0) scale(0.9,1.1)">ω</text><text x="0" y="0" transform="translate(-73.70,0) scale(1,1)">)</text></g>
<g transform="translate(294.50,0) rotate(-90)"><text x="0" y="0" transform="translate(-100.92,0) scale(1.22,1.1)">σ</text><text x="0" y="0" transform="translate(-88.00,0) scale(1,1)">(</text><text x="0" y="0" transform="translate(-83.45,0) scale(0.95,1.12)">ω</text><text x="0" y="0" transform="translate(-72.00,0) scale(1,1)">)</text></g>
<g transform="translate(14.50,0) rotate(-90)"><text x="0" y="0" transform="translate(-326.00,0) scale(1,1)">R</text><text x="0" y="0" transform="translate(-313.60,0) scale(1,1)">(</text><text x="0" y="0" transform="translate(-309.08,0) scale(1.08,1.05)">ω</text><text x="0" y="0" transform="translate(-297.20,0) scale(1,1)">)</text></g>
<text x="0" y="0" text-anchor="middle" transform="translate(301.60,300.90) rotate(-90)">L(w)</text>
<text x="0" y="0" transform="translate(221.90,32.20) scale(1,1.03)" text-anchor="start" >(a)</text>
<text x="0" y="0" transform="translate(364.20,39.20) scale(1,1.03)" text-anchor="start" >(b)</text>
<text x="0" y="0" transform="translate(222.80,253.20) scale(1,1.03)" text-anchor="start" >(c)</text>
<text x="0" y="0" transform="translate(362.70,252.80) scale(1,1.03)" text-anchor="start" >(d)</text>
<line x1="73.5" y1="18.2" x2="98.5" y2="18.2" stroke="#000" stroke-width="2.4"/>
<line x1="73.5" y1="37.5" x2="98.5" y2="37.5" stroke="#ff0000" stroke-width="2.4"/>
<text x="0" y="0" transform="translate(108.6,25.0) scale(1,1.06)" style="font-size:17.4px">CsGeBr<tspan font-size="13" dy="6.6">3</tspan></text>
<text x="0" y="0" transform="translate(108.6,44.1) scale(1,1.06)" style="font-size:17.4px">CsSnBr<tspan font-size="13" dy="6.6">3</tspan></text>
<line x1="75" y1="143" x2="75" y2="170" stroke="#0000ff" stroke-width="1.7"/>
<line x1="87" y1="140" x2="87" y2="168" stroke="#0000ff" stroke-width="1.7"/>
</svg></body></html>
